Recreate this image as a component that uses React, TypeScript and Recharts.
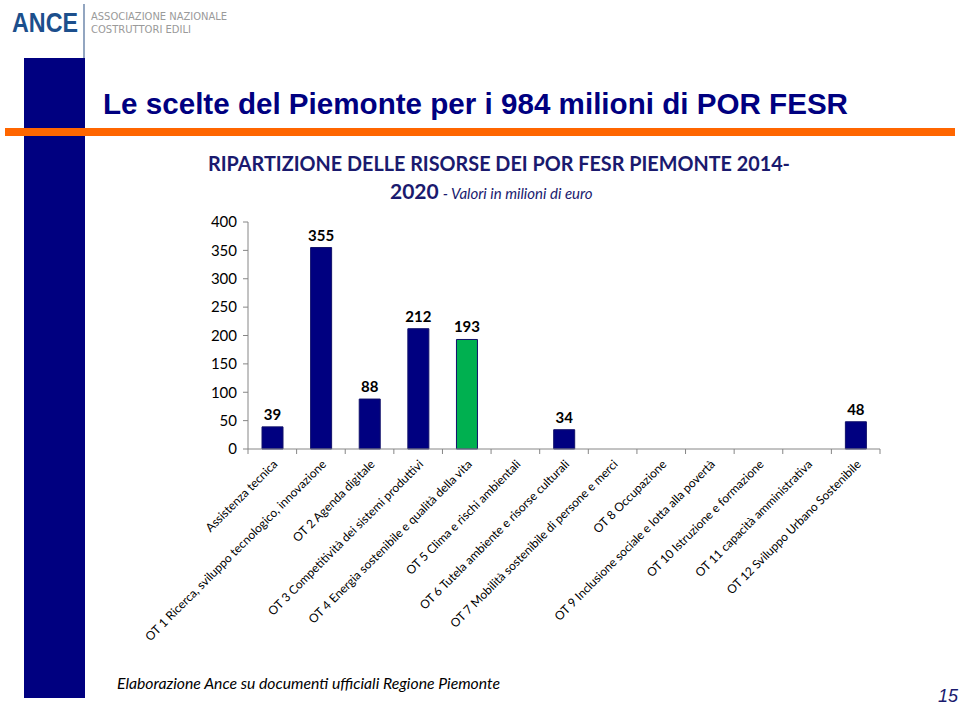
import { BarChart, Bar, XAxis, YAxis, Cell, LabelList } from "recharts";

const categories = [
  "Assistenza tecnica",
  "OT 1 Ricerca, sviluppo tecnologico, innovazione",
  "OT 2 Agenda digitale",
  "OT 3 Competitività dei sistemi produttivi",
  "OT 4 Energia sostenibile e qualità della vita",
  "OT 5 Clima e rischi ambientali",
  "OT 6 Tutela ambiente e risorse culturali",
  "OT 7 Mobilità sostenibile di persone e merci",
  "OT 8 Occupazione",
  "OT 9 Inclusione sociale e lotta alla povertà",
  "OT 10 Istruzione e formazione",
  "OT 11 capacità amministrativa",
  "OT 12 Sviluppo Urbano Sostenibile",
];
const values = [39, 355, 88, 212, 193, null, 34, null, null, null, null, null, 48];
const greenIndex = 4;
const yTicks = [0, 50, 100, 150, 200, 250, 300, 350, 400];

const data = categories.map((name, i) => ({ name, value: values[i] }));

const NAVY = "#000080";
const BAND = (880 - 248) / categories.length;
const calibri = "Lato, 'Noto Sans', sans-serif";

const CatTick = (props: any) => {
  const { x, y, payload, index } = props;
  return (
    <g>
      {index === 0 && (
        <line x1={x - BAND / 2} x2={x - BAND / 2} y1={y} y2={y + 5} stroke="#868686" />
      )}
      <line x1={x + BAND / 2} x2={x + BAND / 2} y1={y} y2={y + 5} stroke="#868686" />
      <text
        transform={`translate(${x + 6},${y + 16}) rotate(-45)`}
        textAnchor="end"
        fontSize={12}
        fontFamily={calibri}
        fill="#000"
      >
        {payload.value}
      </text>
    </g>
  );
};

const App = () => {
  return (
    <div
      style={{
        position: "absolute",
        left: 0,
        top: 0,
        width: 960,
        height: 705,
        background: "#fff",
        overflow: "hidden",
      }}
    >
      <svg width={960} height={705} style={{ position: "absolute", left: 0, top: 0 }}>
        {/* logo */}
        <text
          x={12}
          y={32}
          fontSize={28}
          fontWeight="bold"
          fontFamily="'Liberation Sans', Arial, sans-serif"
          fill="#1c4f8c"
          textLength={66}
          lengthAdjust="spacingAndGlyphs"
        >
          ANCE
        </text>
        <line x1={84} x2={84} y1={4} y2={60} stroke="#4a6a96" strokeWidth={1.2} />
        <text
          x={91}
          y={20}
          fontSize={11}
          fontFamily="'DejaVu Sans', sans-serif"
          fill="#9a9a9a"
          textLength={136}
          lengthAdjust="spacingAndGlyphs"
        >
          ASSOCIAZIONE NAZIONALE
        </text>
        <text
          x={91}
          y={33}
          fontSize={11}
          fontFamily="'DejaVu Sans', sans-serif"
          fill="#9a9a9a"
          textLength={100}
          lengthAdjust="spacingAndGlyphs"
        >
          COSTRUTTORI EDILI
        </text>
        {/* left band */}
        <rect x={24} y={58} width={61} height={640} fill={NAVY} />
        {/* title */}
        <text
          x={103}
          y={114}
          fontSize={29}
          fontWeight="bold"
          fontFamily="'Liberation Sans', Arial, sans-serif"
          fill={NAVY}
          textLength={745}
          lengthAdjust="spacingAndGlyphs"
        >
          Le scelte del Piemonte per i 984 milioni di POR FESR
        </text>
        <rect x={5} y={128} width={950} height={8} fill="#ff6600" />
        {/* chart title */}
        <text
          x={208}
          y={171}
          fontSize={21}
          fontWeight="bold"
          fontFamily={calibri}
          fill="#1a1a6e"
          textLength={582}
          lengthAdjust="spacingAndGlyphs"
        >
          RIPARTIZIONE DELLE RISORSE DEI POR FESR PIEMONTE 2014-
        </text>
        <text x={390} y={199} fontFamily={calibri} fill="#1a1a6e">
          <tspan fontSize={21} fontWeight="bold">
            2020
          </tspan>
          <tspan fontSize={15} fontStyle="italic" dx={4}>
            - Valori in milioni di euro
          </tspan>
        </text>
        {/* footer */}
        <text
          x={117}
          y={689}
          fontSize={15}
          fontStyle="italic"
          fontFamily={calibri}
          fill="#000"
          textLength={383}
          lengthAdjust="spacingAndGlyphs"
        >
          Elaborazione Ance su documenti ufficiali Regione Piemonte
        </text>
        <text
          x={938}
          y={702}
          fontSize={18}
          fontStyle="italic"
          fontFamily="'Liberation Sans', Arial, sans-serif"
          fill="#1a1a6e"
        >
          15
        </text>
      </svg>
      <div style={{ position: "absolute", left: 0, top: 0 }}>
        <BarChart
          width={960}
          height={705}
          data={data}
          margin={{ top: 222, right: 80, bottom: 56, left: 188 }}
          barCategoryGap={0}
        >
          <XAxis
            dataKey="name"
            interval={0}
            height={200}
            tickLine={false}
            tickSize={0}
            tickMargin={0}
            stroke="#868686"
            tick={<CatTick />}
          />
          <YAxis
            width={60}
            domain={[0, 400]}
            ticks={yTicks}
            interval={0}
            tickSize={5}
            tickMargin={6}
            stroke="#868686"
            tick={{ fill: "#000", fontSize: 15, fontFamily: calibri }}
          />
          <Bar dataKey="value" barSize={21} isAnimationActive={false} stroke="#10106a" strokeWidth={1}>
            {data.map((d, i) => (
              <Cell key={d.name} fill={i === greenIndex ? "#00b050" : NAVY} />
            ))}
            <LabelList
              dataKey="value"
              position="top"
              offset={7}
              formatter={(v: any) => (v ? v : "")}
              style={{ fill: "#000", fontSize: 15, fontWeight: "bold", fontFamily: calibri }}
            />
          </Bar>
        </BarChart>
      </div>
    </div>
  );
};

export default App;
